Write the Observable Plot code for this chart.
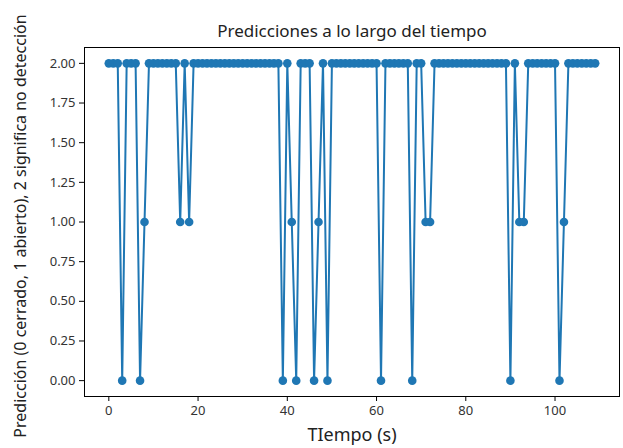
<!DOCTYPE html>
<html>
<head>
<meta charset="utf-8">
<script src="https://cdn.jsdelivr.net/npm/d3@7"></script>
<script src="https://cdn.jsdelivr.net/npm/@observablehq/plot@0.6"></script>
<style>
  html, body { margin: 0; padding: 0; background: #fff; }
  #chart svg { display: block; }
</style>
</head>
<body>
<div id="chart"></div>
<script>
const title = "Predicciones a lo largo del tiempo";
const xLabel = "TIempo (s)";
const yLabel = "Predicción (0 cerrado, 1 abierto), 2 significa no detección";

// Prediction per second (index = time in s)
const predictions = [
  2, 2, 2, 0, 2, 2, 2, 0, 1, 2,
  2, 2, 2, 2, 2, 2, 1, 2, 1, 2,
  2, 2, 2, 2, 2, 2, 2, 2, 2, 2,
  2, 2, 2, 2, 2, 2, 2, 2, 2, 0,
  2, 1, 0, 2, 2, 2, 0, 1, 2, 0,
  2, 2, 2, 2, 2, 2, 2, 2, 2, 2,
  2, 0, 2, 2, 2, 2, 2, 2, 0, 2,
  2, 1, 1, 2, 2, 2, 2, 2, 2, 2,
  2, 2, 2, 2, 2, 2, 2, 2, 2, 2,
  0, 2, 1, 1, 2, 2, 2, 2, 2, 2,
  2, 0, 1, 2, 2, 2, 2, 2, 2, 2
];
const xTicks = [0, 20, 40, 60, 80, 100];
const yTicks = [0, 0.25, 0.5, 0.75, 1, 1.25, 1.5, 1.75, 2];

const data = predictions.map((v, i) => ({t: i, v}));
const color = "#1f77b4";
const font = "'Noto Sans', 'DejaVu Sans', sans-serif";

const chart = Plot.plot({
  width: 623,
  height: 448,
  marginLeft: 84,
  marginRight: 4,
  marginTop: 47,
  marginBottom: 52,
  style: {fontFamily: font, background: "#fff", color: "#000"},
  x: {domain: [-5.45, 114.45]},
  y: {domain: [-0.1, 2.1]},
  marks: [
    Plot.frame({stroke: "#000", strokeWidth: 1}),
    Plot.axisX({ticks: xTicks, tickSize: 5, tickPadding: 4, fontSize: 13, label: null, stroke: "#000", fill: "#333"}),
    Plot.axisY({ticks: yTicks, tickSize: 5, tickPadding: 4, fontSize: 13, label: null, tickFormat: d3.format(".2f"), stroke: "#000", fill: "#333"}),
    Plot.line(data, {x: "t", y: "v", stroke: color, strokeWidth: 2}),
    Plot.dot(data, {x: "t", y: "v", r: 4.3, fill: color, stroke: "none"}),
    Plot.text([title], {frameAnchor: "top", dy: -23, text: d => d, fontSize: 17, fill: "#222"}),
    Plot.text([xLabel], {frameAnchor: "bottom", dy: 44, text: d => d, fontSize: 18, fill: "#222"}),
    Plot.text([yLabel], {frameAnchor: "left", textAnchor: "middle", dx: -64, dy: 4, rotate: -90, text: d => d, fontSize: 16, fill: "#222"})
  ]
});
document.getElementById("chart").appendChild(chart);
</script>
</body>
</html>
